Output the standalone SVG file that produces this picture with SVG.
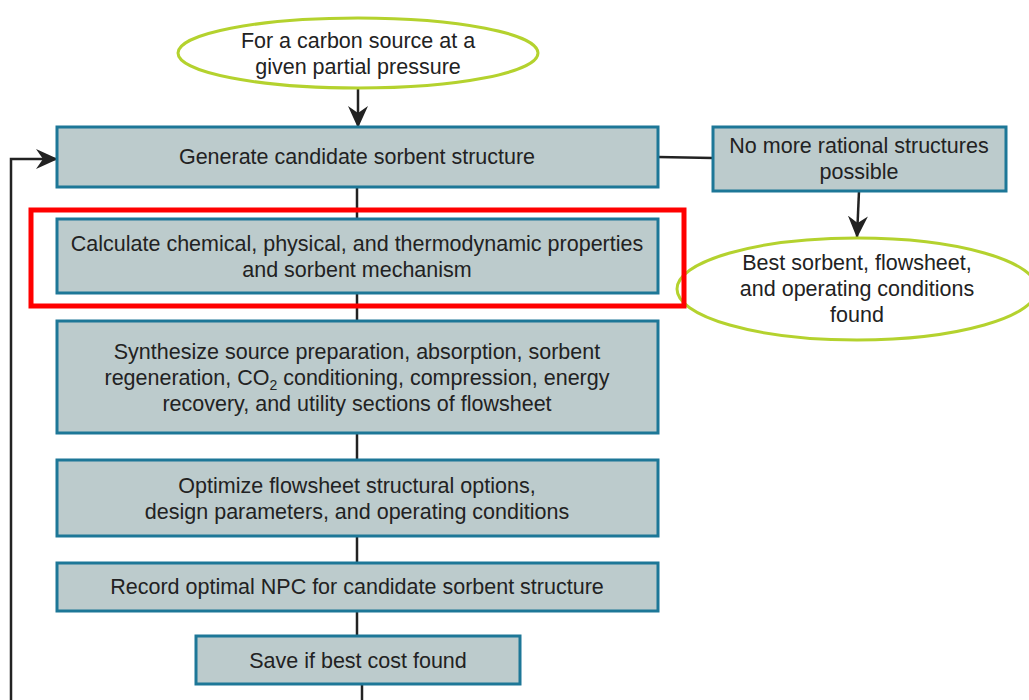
<svg xmlns="http://www.w3.org/2000/svg" width="1029" height="700" viewBox="0 0 1029 700">
<style>
.box{fill:#bccbcc;stroke:#1d7797;stroke-width:3}
.ell{fill:#ffffff;stroke:#b4d22e;stroke-width:3}
.t{font-family:"Liberation Sans",Arial,sans-serif;font-size:21.5px;fill:#222;text-anchor:middle}
.ln{fill:none;stroke:#222;stroke-width:2.5}
</style>
<defs>
<marker id="ah" viewBox="0 0 22 22" refX="21" refY="11" markerWidth="22" markerHeight="22" markerUnits="userSpaceOnUse" orient="auto">
<path d="M0,1 L22,11 L0,21 L7,11 Z" fill="#222"/>
</marker>
</defs>
<rect width="1029" height="700" fill="#ffffff"/>
<g id="connectors">
<path class="ln" d="M358,89 V127" marker-end="url(#ah)"/>
<path class="ln" d="M11,700 V159 H57" marker-end="url(#ah)"/>
<path class="ln" d="M658,157 L713,158"/>
<path class="ln" d="M859,191 L857,237" marker-end="url(#ah)"/>
<path class="ln" d="M357,187 V219"/>
<path class="ln" d="M357,293 V321"/>
<path class="ln" d="M357,433 V460"/>
<path class="ln" d="M357,536 V563"/>
<path class="ln" d="M357,611 V636"/>
<path class="ln" d="M362,684 V700"/>
</g>
<g id="start">
<ellipse class="ell" cx="358" cy="53" rx="180" ry="35"/>
<text class="t" x="358" y="48">For a carbon source at a</text>
<text class="t" x="358" y="74">given partial pressure</text>
</g>
<g id="generate">
<rect class="box" x="57" y="127" width="601" height="60"/>
<text class="t" x="357" y="164">Generate candidate sorbent structure</text>
</g>
<g id="nomore">
<rect class="box" x="713" y="127" width="293" height="64"/>
<text class="t" x="859" y="153">No more rational structures</text>
<text class="t" x="859" y="179">possible</text>
</g>
<g id="best">
<ellipse class="ell" cx="857" cy="289" rx="180" ry="51"/>
<text class="t" x="857" y="270">Best sorbent, flowsheet,</text>
<text class="t" x="857" y="296">and operating conditions</text>
<text class="t" x="857" y="322">found</text>
</g>
<g id="calculate">
<rect class="box" x="57" y="219" width="601" height="74"/>
<text class="t" x="357" y="251">Calculate chemical, physical, and thermodynamic properties</text>
<text class="t" x="357" y="277">and sorbent mechanism</text>
</g>
<g id="highlight">
<rect x="31" y="210" width="653" height="96" fill="none" stroke="#ff0000" stroke-width="5"/>
</g>
<g id="synthesize">
<rect class="box" x="57" y="321" width="601" height="112"/>
<text class="t" x="357" y="359">Synthesize source preparation, absorption, sorbent</text>
<text class="t" x="357" y="385">regeneration, CO<tspan font-size="14" dy="5">2</tspan><tspan dy="-5"> conditioning, compression, energy</tspan></text>
<text class="t" x="357" y="411">recovery, and utility sections of flowsheet</text>
</g>
<g id="optimize">
<rect class="box" x="57" y="460" width="601" height="76"/>
<text class="t" x="357" y="493">Optimize flowsheet structural options,</text>
<text class="t" x="357" y="519">design parameters, and operating conditions</text>
</g>
<g id="record">
<rect class="box" x="57" y="563" width="601" height="48"/>
<text class="t" x="357" y="594">Record optimal NPC for candidate sorbent structure</text>
</g>
<g id="save">
<rect class="box" x="196" y="636" width="324" height="48"/>
<text class="t" x="358" y="668">Save if best cost found</text>
</g>
</svg>
